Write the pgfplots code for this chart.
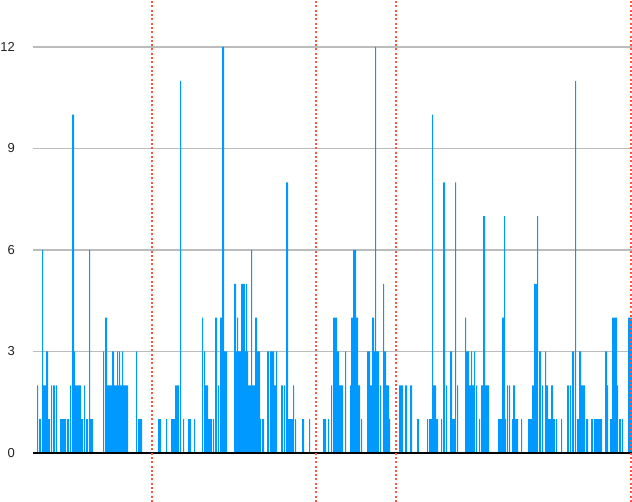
\documentclass[border=0pt]{standalone}
\usepackage{pgfplots}
\usepackage{pgfplotstable}
\pgfplotsset{compat=1.18}
\usepackage{fontspec}
\setmainfont{Liberation Sans}
\definecolor{barblue}{RGB}{0,153,255}
\definecolor{redline}{RGB}{255,85,60}
\definecolor{gridgray}{RGB}{188,188,188}
\definecolor{labelgray}{RGB}{34,34,34}
\pgfplotstableread{
x y
37 2
39 1
40 1
42 6
43 2
44 2
45 2
46 3
47 3
48 1
49 1
51 2
53 2
54 2
56 2
60 1
61 1
62 1
63 1
64 1
65 1
67 1
68 1
70 2
72 10
73 10
74 3
75 2
76 2
77 2
78 2
79 2
80 2
81 1
82 1
84 2
86 1
87 1
89 6
90 1
91 1
92 1
103 3
105 4
106 4
107 2
108 2
109 2
110 2
111 2
112 3
113 3
114 2
115 2
116 2
117 3
118 2
119 3
120 2
121 2
122 3
123 2
124 2
125 2
126 2
127 2
136 3
138 1
139 1
140 1
141 1
158 1
159 1
160 1
166 1
171 1
172 1
173 1
174 1
175 2
176 2
177 2
178 2
180 11
183 1
188 1
189 1
190 1
194 1
202 4
204 3
205 2
206 2
207 2
208 1
209 1
210 1
211 1
213 1
215 4
216 4
218 2
220 4
221 4
222 12
223 12
224 3
225 3
226 3
234 5
235 5
236 3
237 4
238 3
239 3
240 3
241 5
242 5
243 5
244 5
245 3
246 5
247 3
248 2
249 2
250 2
251 6
252 2
253 2
254 2
255 4
256 4
257 3
258 3
259 3
260 1
262 1
263 1
267 3
268 3
270 3
271 3
272 3
273 3
274 2
275 2
276 3
281 2
282 2
284 2
286 8
287 8
288 1
289 1
290 1
291 1
292 1
293 2
295 1
302 1
303 1
309 1
323 1
324 1
325 1
328 1
331 2
333 4
334 4
335 4
336 4
337 3
338 3
339 2
340 2
341 2
342 2
345 3
350 2
351 4
352 4
353 6
354 6
355 6
356 4
357 4
358 2
359 2
361 1
367 3
368 3
369 3
370 2
371 2
372 4
373 4
374 3
375 12
376 3
377 3
378 3
380 2
383 5
384 3
385 3
386 2
387 2
388 2
389 1
399 2
400 2
401 2
402 2
405 2
406 2
410 2
411 2
417 1
418 1
427 1
429 1
430 1
431 1
432 10
433 2
434 2
435 2
436 1
437 1
441 1
443 8
444 8
446 2
450 3
451 3
452 1
453 1
454 1
455 8
457 2
465 4
466 3
467 3
468 3
469 2
470 2
471 3
472 2
473 2
474 3
476 2
479 1
481 2
482 2
483 7
484 7
485 2
486 2
487 2
488 2
498 1
499 1
500 1
501 1
502 4
503 4
504 7
505 1
507 2
509 2
512 1
513 2
514 2
515 1
516 1
517 1
521 1
528 1
529 1
530 1
531 1
532 2
533 2
534 5
535 5
536 5
537 7
539 3
540 3
542 2
545 3
546 2
547 2
548 1
549 1
550 1
551 2
552 2
553 1
554 1
556 1
561 1
567 2
568 2
570 2
572 3
573 3
575 11
577 1
578 1
579 3
580 3
581 2
582 2
583 2
584 2
586 1
587 1
591 1
592 1
594 1
595 1
596 1
597 1
598 1
599 1
600 1
601 1
605 3
606 3
607 2
610 1
611 1
612 4
613 4
614 4
615 4
616 4
617 2
619 1
620 1
622 1
628 4
629 4
630 4
631 4
}\counts
\begin{document}
\begin{tikzpicture}
\useasboundingbox (0,0) rectangle (632pt,502pt);
\begin{axis}[
  at={(33pt,0pt)}, anchor=south west,
  scale only axis,
  width=599pt, height=502pt,
  xmin=32.5, xmax=631.5,
  ymin=-1.448, ymax=13.389,
  axis line style={draw=none},
  xtick=\empty,
  ytick={0,3,6,9,12},
  ymajorgrids,
  major grid style={gridgray, line width=1.2pt},
  major tick length=0pt,
  /pgf/number format/assume math mode=true,
  yticklabel style={font=\fontsize{13}{15}\selectfont, text=labelgray, anchor=east, inner sep=0pt, xshift=-18pt},
  clip=false,
]
\addplot[ybar, bar width=1, bar shift=0pt, fill=barblue, draw=none] table[x=x, y=y] {\counts};
\addplot[black, line width=2.5pt] coordinates {(32.5,0) (631.5,0)};
\addplot[redline, line width=2pt, dash pattern=on 2pt off 2.3pt] coordinates {(151,-1.448) (151,13.389)};
\addplot[redline, line width=2pt, dash pattern=on 2pt off 2.3pt] coordinates {(315,-1.448) (315,13.389)};
\addplot[redline, line width=2pt, dash pattern=on 2pt off 2.3pt] coordinates {(395,-1.448) (395,13.389)};
\addplot[redline, line width=2pt, dash pattern=on 2pt off 2.3pt] coordinates {(630,-1.448) (630,13.389)};
\end{axis}
\end{tikzpicture}
\end{document}
